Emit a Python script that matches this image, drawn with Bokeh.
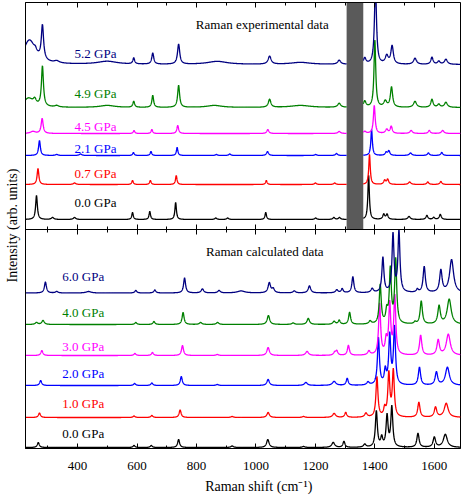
import numpy as np
from bokeh.plotting import figure
from bokeh.models import LinearAxis, Range1d, BoxAnnotation, Label, FixedTicker
from bokeh.embed import file_html
from bokeh.resources import INLINE

# ---------------- data ----------------
X_TICKS = [400, 600, 800, 1000, 1200, 1400, 1600]
X_MINOR = [300, 500, 700, 900, 1100, 1300, 1500]

SERIES_COLORS = ["#000000", "#ff0000", "#0000ff", "#ff00ff", "#008000", "#000080"]

# experimental spectra (upper panel); peaks = (shift cm-1, height, FWHM)
EXP_LABELS = ["0.0 GPa", "0.7 GPa", "2.1 GPa", "4.5 GPa", "4.9 GPa", "5.2 GPa"]
EXP_OFFSETS = [229, 264, 293, 315, 341, 384]
EXP_GAP = [1305, 1361]
EXP_00 = [(262, 24, 7), (316, 2, 10), (390, 2, 10), (585, 7, 6), (643, 8, 6), (730, 17, 6),
          (865, 1.5, 8), (905, 1.5, 8), (1033, 7, 6), (1201, 1.5, 8), (1262, 2, 8), (1281, 2, 8),
          (1379, 44, 6), (1430, 5, 8), (1441, 5, 8), (1515, 3, 10), (1575, 4, 8), (1598, 2, 8),
          (1620, 5, 8)]
EXP_07 = [(267, 16, 7), (390, 1.5, 10), (585, 4, 6), (645, 4, 6), (732, 9, 6), (1035, 4, 6),
          (1200, 1.5, 8), (1265, 1.5, 8), (1382, 30, 6), (1433, 4, 8), (1443, 5, 8),
          (1517, 2.5, 10), (1578, 2.5, 8), (1622, 3, 8)]
EXP_21 = [(272, 15, 7), (330, 1, 10), (410, 1.5, 10), (588, 3, 6), (647, 4, 6), (735, 8, 6),
          (867, 1, 8), (912, 1.5, 8), (1039, 4, 8), (1201, 1, 8), (1271, 2, 8), (1389, 26, 6),
          (1438, 3, 8), (1447, 4.5, 8), (1520, 2.5, 10), (1580, 2.5, 8), (1625, 3, 8)]
EXP_45 = [(250, 2, 20), (281, 15, 8), (590, 3, 6), (650, 4, 6), (737, 8, 7), (1040, 4, 8),
          (1280, 2, 10), (1366, 2, 10), (1398, 28, 7), (1440, 4, 10), (1455, 7, 8),
          (1522, 3, 10), (1583, 3, 8), (1628, 3, 10)]
EXP_49 = [(235, 9, 40), (256, 5, 12), (282, 40, 8), (330, 1.5, 15), (500, 2, 60), (589, 6, 7),
          (653, 12, 7), (740, 22, 8), (860, 2, 60), (1046, 8, 10), (1150, 2, 80), (1280, 4, 12),
          (1366, 6, 10), (1400, 67, 7), (1435, 6, 12), (1456, 20, 9), (1535, 6, 12),
          (1592, 8, 9), (1615, 3, 10), (1639, 5, 12)]
EXP_52 = [(238, 24, 50), (258, 3, 10), (282, 34, 9), (330, 2, 20), (500, 3, 80), (589, 6, 7),
          (653, 11, 8), (740, 20, 9), (870, 3, 80), (1046, 8, 12), (1150, 2, 80), (1280, 4, 12),
          (1366, 6, 10), (1402, 80, 8), (1440, 8, 12), (1458, 18, 10), (1535, 6, 12),
          (1592, 7, 9), (1615, 3, 10), (1639, 5, 12)]
EXP_PEAKS = [EXP_00, EXP_07, EXP_21, EXP_45, EXP_49, EXP_52]

# calculated spectra (lower panel)
CALC_LABELS = ["0.0 GPa", "1.0 GPa", "2.0 GPa", "3.0 GPa", "4.0 GPa", "6.0 GPa"]
CALC_OFFSETS = [1, 31, 63, 93, 124, 155.5]
CALC_00 = [(268, 5, 8), (590, 2, 8), (648, 2, 8), (740, 8, 8), (920, 1.5, 10), (1040, 8, 10),
           (1160, 1, 10), (1260, 5, 12), (1296, 6, 8), (1366, 3, 10), (1405, 36, 8),
           (1423, 9, 8), (1441, 31, 8), (1457, 40, 8), (1545, 14, 9), (1600, 10, 10),
           (1637, 13, 16)]
CALC_10 = [(272, 4.5, 8), (590, 1.5, 8), (650, 2, 8), (745, 7.5, 8), (920, 1, 10),
           (1041, 5, 10), (1160, 1, 10), (1263, 4, 12), (1302, 5, 8), (1370, 4, 10),
           (1407, 40, 8), (1433, 8, 8), (1447, 43, 8), (1462, 46, 8), (1548, 15, 9),
           (1604, 10, 10), (1640, 14, 16)]
CALC_20 = [(276, 5, 8), (592, 2, 8), (650, 2.5, 8), (749, 9, 8), (870, 1, 10), (1041, 6, 10),
           (1168, 3, 12), (1263, 4, 14), (1307, 7, 8), (1377, 3, 10), (1412, 47, 8),
           (1435, 14, 8), (1450, 49, 8), (1466, 57, 8), (1550, 18, 9), (1607, 13, 10),
           (1644, 18, 16)]
CALC_30 = [(280, 5, 8), (593, 2, 8), (652, 3, 8), (753, 10, 8), (870, 1, 10), (1041, 8, 10),
           (1172, 4, 12), (1265, 3, 10), (1272, 4, 8), (1311, 10, 8), (1380, 4, 10),
           (1416, 51, 8), (1438, 14, 8), (1450, 50, 8), (1467, 58, 8), (1554, 20, 9),
           (1613, 15, 10), (1647, 21, 16)]
CALC_40 = [(262, 2, 10), (284, 4, 10), (596, 2, 8), (657, 3, 8), (755, 12, 8), (814, 2, 10),
           (871, 2, 10), (1042, 9, 10), (1125, 1.5, 10), (1176, 6, 10), (1263, 3, 10),
           (1280, 4, 8), (1315, 12, 8), (1384, 3, 10), (1418, 39, 8), (1440, 12, 8),
           (1452, 54, 8), (1470, 64, 8), (1535, 2, 8), (1556, 23, 9), (1616, 18, 10),
           (1650, 25, 16)]
CALC_60 = [(292, 11, 8), (330, 1.5, 10), (437, 1.5, 20), (596, 2.5, 8), (660, 3, 8),
           (760, 15, 8), (820, 4, 10), (876, 2.5, 10), (950, 2, 30), (1045, 10, 10),
           (1058, 4, 10), (1129, 2, 10), (1180, 7, 10), (1272, 3, 10), (1290, 4, 8),
           (1326, 16, 8), (1391, 4, 10), (1427, 35, 8), (1461, 58, 8), (1481, 61, 8),
           (1543, 3, 8), (1566, 26, 9), (1622, 22, 10), (1658, 33, 16)]
CALC_PEAKS = [CALC_00, CALC_10, CALC_20, CALC_30, CALC_40, CALC_60]

X_MIN, X_MAX = 225, 1688
Y_SPLIT = 219        # boundary between lower (calculated) and upper (experimental) panel
Y_TOP = 446

# ---------------- rendering ----------------
xs = np.arange(X_MIN, X_MAX + 0.5, 0.5)


def spectrum(peaks, offset):
    c = np.array([q[0] for q in peaks], dtype=float)
    h = np.array([q[1] for q in peaks], dtype=float)
    w = np.array([q[2] for q in peaks], dtype=float)
    y = (h[None, :] / (1.0 + ((xs[:, None] - c[None, :]) / (w[None, :] / 2.0)) ** 2)).sum(axis=1)
    return y + offset


FONT = "Liberation Serif"

p = figure(width=463, height=500, x_range=Range1d(X_MIN, X_MAX), y_range=Range1d(0, Y_TOP),
           output_backend="svg", toolbar_location=None,
           min_border_left=25, min_border_right=3, min_border_top=2, min_border_bottom=52)
p.xgrid.visible = False
p.ygrid.visible = False
p.outline_line_color = "black"
p.outline_line_width = 1
p.background_fill_color = "white"
p.border_fill_color = "white"

# bottom axis
xa = p.xaxis[0]
xa.ticker = FixedTicker(ticks=X_TICKS, minor_ticks=X_MINOR + X_TICKS)
xa.major_tick_in = 5
xa.major_tick_out = 0
xa.minor_tick_in = 3
xa.minor_tick_out = 0
xa.major_label_standoff = 13
xa.major_label_text_font = FONT
xa.major_label_text_font_size = "13px"
xa.major_label_text_color = "black"
xa.axis_line_color = "black"
xa.axis_label = "\u00a0" * 9 + "Raman shift (cm\u207b\u00b9)"
xa.axis_label_text_font = FONT
xa.axis_label_text_font_size = "14px"
xa.axis_label_text_font_style = "normal"
xa.axis_label_text_color = "black"
xa.axis_label_standoff = 6

# left axis (label only)
ya = p.yaxis[0]
ya.ticker = FixedTicker(ticks=[], minor_ticks=[])
ya.major_label_standoff = 0
ya.major_tick_out = 0
ya.minor_tick_out = 0
ya.axis_label = "Intensity (arb. units)"
ya.axis_label_text_font = FONT
ya.axis_label_text_font_size = "14px"
ya.axis_label_text_font_style = "normal"
ya.axis_label_text_color = "black"
ya.axis_label_standoff = 6
ya.axis_line_color = "black"


def tick_axis(location, side, ticks, tin, tout):
    # label-free axis: the tick positions are given as "minor" ticks so no text is drawn
    ax = LinearAxis(fixed_location=location, ticker=FixedTicker(ticks=[], minor_ticks=ticks),
                    major_tick_in=0, major_tick_out=0, minor_tick_in=tin, minor_tick_out=tout,
                    axis_line_color="black")
    p.add_layout(ax, side)


# divider between panels: ticks on both sides
tick_axis(Y_SPLIT, "below", X_TICKS, 5, 5)
tick_axis(Y_SPLIT, "below", X_MINOR, 3, 3)
# top frame: inward ticks
tick_axis(Y_TOP, "above", X_TICKS, 5, 0)
tick_axis(Y_TOP, "above", X_MINOR, 3, 0)

# masked region of experimental data
p.add_layout(BoxAnnotation(left=EXP_GAP[0], right=EXP_GAP[1], bottom=Y_SPLIT, top=Y_TOP,
                           fill_color="#5a5a5a", fill_alpha=1.0, line_color=None,
                           level="underlay"))

for peaks, off, col in zip(CALC_PEAKS, CALC_OFFSETS, SERIES_COLORS):
    p.line(xs, spectrum(peaks, off), line_color=col, line_width=1.3)

gap = (xs > EXP_GAP[0]) & (xs < EXP_GAP[1])
for peaks, off, col in zip(EXP_PEAKS, EXP_OFFSETS, SERIES_COLORS):
    y = spectrum(peaks, off)
    y[gap] = np.nan
    p.line(xs, y, line_color=col, line_width=1.3)

# series labels
EXP_LABEL_X = 390
EXP_LABEL_Y = [246, 275, 300, 322, 355, 395]
CALC_LABEL_X = 349
CALC_LABEL_Y = [15, 45, 75, 102, 136, 172]
for txt, yy, col in zip(EXP_LABELS, EXP_LABEL_Y, SERIES_COLORS):
    p.add_layout(Label(x=EXP_LABEL_X, y=yy, text=txt, text_color=col, text_font=FONT,
                       text_font_size="13px", text_baseline="middle", text_align="left"))
for txt, yy, col in zip(CALC_LABELS, CALC_LABEL_Y, SERIES_COLORS):
    p.add_layout(Label(x=CALC_LABEL_X, y=yy, text=txt, text_color=col, text_font=FONT,
                       text_font_size="13px", text_baseline="middle", text_align="left"))

p.add_layout(Label(x=798, y=424, text="Raman experimental data", text_color="black",
                   text_font=FONT, text_font_size="13px", text_baseline="middle",
                   text_align="left"))
p.add_layout(Label(x=832, y=197, text="Raman calculated data", text_color="black",
                   text_font=FONT, text_font_size="13px", text_baseline="middle",
                   text_align="left"))

open("out.html", "w").write(file_html(p, INLINE))
